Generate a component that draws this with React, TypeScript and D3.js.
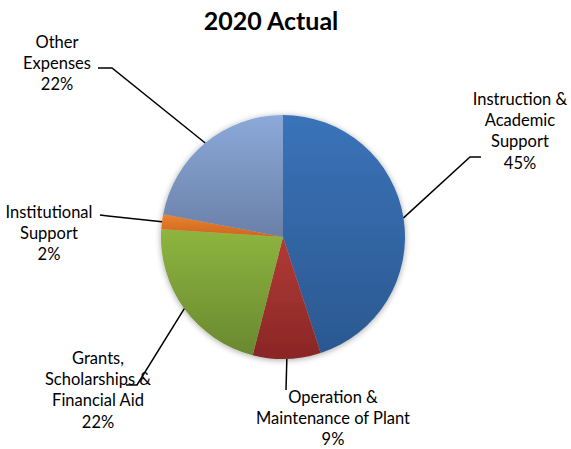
import React from "react";
import * as d3 from "d3";

const categories = [
  "Instruction & Academic Support",
  "Operation & Maintenance of Plant",
  "Grants, Scholarships & Financial Aid",
  "Institutional Support",
  "Other Expenses",
];
const values = [45, 9, 22, 2, 22];
const labelLines = [
  ["Instruction &", "Academic", "Support", "45%"],
  ["Operation &", "Maintenance of Plant", "9%"],
  ["Grants,", "Scholarships &", "Financial Aid", "22%"],
  ["Institutional", "Support", "2%"],
  ["Other", "Expenses", "22%"],
];
const colorsTop = ["#3A73B9", "#B23B36", "#8DB53F", "#EA8330", "#8BA9D9"];
const colorsBottom = ["#2B5890", "#892625", "#6A8830", "#CC661C", "#6A80A8"];

// layout: label text center x, first line center y, elbow point, end point
const labelLayout = [
  { x: 520, y: 99, elbow: [470, 157], end: [481, 157] },
  { x: 333, y: 397, elbow: [286, 390], end: [286, 390] },
  { x: 98, y: 358, elbow: [137, 385], end: [126, 385] },
  { x: 49, y: 212, elbow: [108, 216], end: [100, 215] },
  { x: 57, y: 42, elbow: [112, 68], end: [98, 68] },
];

const W = 571;
const H = 449;
const cx = 283;
const cy = 237;
const R = 122;
const lineH = 21.3;

export default function App() {
  const pie = d3
    .pie<number>()
    .sort(null)
    .value((d) => d)
    .startAngle(0)
    .endAngle(2 * Math.PI);
  const arcs = pie(values);
  const arc = d3.arc<d3.PieArcDatum<number>>().innerRadius(0).outerRadius(R);

  return (
    <svg
      width={W}
      height={H}
      style={{ position: "absolute", left: 0, top: 0 }}
      fontFamily="Lato, 'Open Sans', sans-serif"
    >
      <defs>
        <filter id="shadow" x="-20%" y="-20%" width="140%" height="140%">
          <feGaussianBlur in="SourceAlpha" stdDeviation="3" />
          <feOffset dx="0" dy="1" result="b" />
          <feComponentTransfer>
            <feFuncA type="linear" slope="0.35" />
          </feComponentTransfer>
          <feMerge>
            <feMergeNode />
            <feMergeNode in="SourceGraphic" />
          </feMerge>
        </filter>
        {categories.map((c, i) => (
          <linearGradient key={c} id={`g${i}`} x1="0" y1="0" x2="0" y2="1">
            <stop offset="0" stopColor={colorsTop[i]} />
            <stop offset="1" stopColor={colorsBottom[i]} />
          </linearGradient>
        ))}
      </defs>
      <rect width={W} height={H} fill="#fff" />
      <text
        x={271}
        y={30}
        textAnchor="middle"
        fontSize={25}
        fontWeight="bold"
        fill="#000"
      >
        2020 Actual
      </text>
      <g transform={`translate(${cx},${cy})`} filter="url(#shadow)">
        {arcs.map((a, i) => (
          <path key={categories[i]} d={arc(a) || ""} fill={`url(#g${i})`} />
        ))}
      </g>
      {arcs.map((a, i) => {
        const mid = (a.startAngle + a.endAngle) / 2;
        const sx = cx + R * Math.sin(mid);
        const sy = cy - R * Math.cos(mid);
        const L = labelLayout[i];
        return (
          <g key={categories[i]}>
            <polyline
              points={`${sx},${sy} ${L.elbow[0]},${L.elbow[1]} ${L.end[0]},${L.end[1]}`}
              fill="none"
              stroke="#000"
              strokeWidth={1.5}
            />
            <text
              x={L.x}
              textAnchor="middle"
              fontSize={16.5}
              fill="#000"
            >
              {labelLines[i].map((t, j) => (
                <tspan key={j} x={L.x} y={L.y + j * lineH} dy="0.35em">
                  {t}
                </tspan>
              ))}
            </text>
          </g>
        );
      })}
    </svg>
  );
}
